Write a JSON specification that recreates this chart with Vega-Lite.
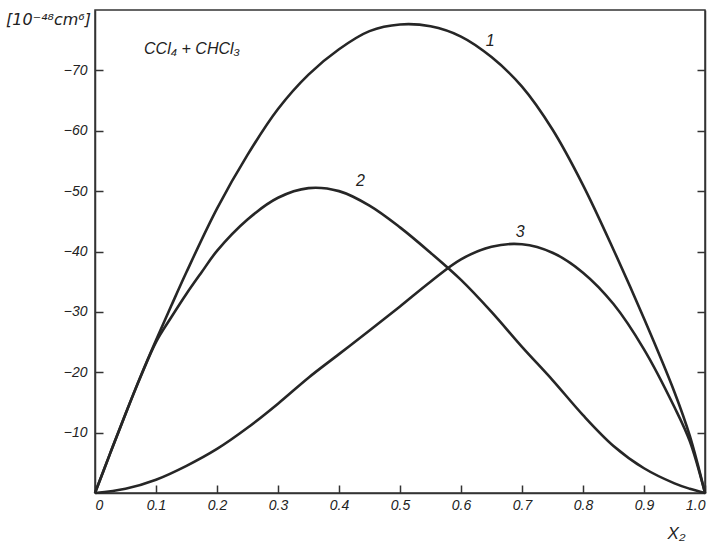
{
  "$schema": "https://vega.github.io/schema/vega-lite/v6.json",
  "width": 610,
  "height": 483,
  "autosize": {"type": "none"},
  "padding": {"left": 95, "top": 10, "right": 2, "bottom": 52},
  "background": "white",
  "config": {
    "view": {"stroke": "#333333", "strokeWidth": 1.5},
    "axis": {
      "domainColor": "#333333",
      "domainWidth": 1.5,
      "tickColor": "#333333",
      "tickWidth": 1.5,
      "tickSize": -8,
      "grid": false,
      "labelFont": "Liberation Sans",
      "labelFontStyle": "italic",
      "labelFontSize": 14,
      "labelColor": "#222222",
      "titleFont": "Liberation Sans",
      "titleFontStyle": "italic",
      "titleFontWeight": "normal",
      "titleColor": "#222222"
    }
  },
  "datasets": {
    "curves": [
      {"curve": "1", "x": 0, "v": 0},
      {"curve": "1", "x": 0.025, "v": -6.6},
      {"curve": "1", "x": 0.05, "v": -13.1},
      {"curve": "1", "x": 0.075, "v": -19.4},
      {"curve": "1", "x": 0.1, "v": -25.3},
      {"curve": "1", "x": 0.125, "v": -31.0},
      {"curve": "1", "x": 0.15, "v": -36.6},
      {"curve": "1", "x": 0.2, "v": -47.1},
      {"curve": "1", "x": 0.25, "v": -56.0},
      {"curve": "1", "x": 0.3, "v": -63.6},
      {"curve": "1", "x": 0.35, "v": -69.3},
      {"curve": "1", "x": 0.4, "v": -73.5},
      {"curve": "1", "x": 0.45, "v": -76.5},
      {"curve": "1", "x": 0.5, "v": -77.6},
      {"curve": "1", "x": 0.55, "v": -77.3},
      {"curve": "1", "x": 0.6, "v": -75.6},
      {"curve": "1", "x": 0.65, "v": -72.2},
      {"curve": "1", "x": 0.7, "v": -67.3},
      {"curve": "1", "x": 0.75, "v": -60.2},
      {"curve": "1", "x": 0.8, "v": -51.0},
      {"curve": "1", "x": 0.85, "v": -40.3},
      {"curve": "1", "x": 0.9, "v": -28.9},
      {"curve": "1", "x": 0.95, "v": -16.7},
      {"curve": "1", "x": 0.975, "v": -9.5},
      {"curve": "1", "x": 1.0, "v": 0},
      {"curve": "2", "x": 0, "v": 0},
      {"curve": "2", "x": 0.025, "v": -6.6},
      {"curve": "2", "x": 0.05, "v": -13.1},
      {"curve": "2", "x": 0.075, "v": -19.3},
      {"curve": "2", "x": 0.1, "v": -25.0},
      {"curve": "2", "x": 0.125, "v": -29.1},
      {"curve": "2", "x": 0.15, "v": -33.0},
      {"curve": "2", "x": 0.175, "v": -36.6},
      {"curve": "2", "x": 0.2, "v": -40.1},
      {"curve": "2", "x": 0.25, "v": -45.3},
      {"curve": "2", "x": 0.3, "v": -48.9},
      {"curve": "2", "x": 0.35, "v": -50.5},
      {"curve": "2", "x": 0.4, "v": -50.0},
      {"curve": "2", "x": 0.45, "v": -47.6},
      {"curve": "2", "x": 0.5, "v": -44.0},
      {"curve": "2", "x": 0.55, "v": -39.8},
      {"curve": "2", "x": 0.6, "v": -35.3},
      {"curve": "2", "x": 0.65, "v": -30.0},
      {"curve": "2", "x": 0.7, "v": -24.2},
      {"curve": "2", "x": 0.75, "v": -18.7},
      {"curve": "2", "x": 0.8, "v": -12.9},
      {"curve": "2", "x": 0.85, "v": -7.8},
      {"curve": "2", "x": 0.9, "v": -4.1},
      {"curve": "2", "x": 0.95, "v": -1.6},
      {"curve": "2", "x": 0.975, "v": -0.7},
      {"curve": "2", "x": 1.0, "v": 0},
      {"curve": "3", "x": 0, "v": 0},
      {"curve": "3", "x": 0.05, "v": -0.7},
      {"curve": "3", "x": 0.1, "v": -2.2},
      {"curve": "3", "x": 0.15, "v": -4.5},
      {"curve": "3", "x": 0.2, "v": -7.3},
      {"curve": "3", "x": 0.25, "v": -10.8},
      {"curve": "3", "x": 0.3, "v": -14.8},
      {"curve": "3", "x": 0.35, "v": -19.1},
      {"curve": "3", "x": 0.4, "v": -23.0},
      {"curve": "3", "x": 0.45, "v": -26.9},
      {"curve": "3", "x": 0.5, "v": -30.9},
      {"curve": "3", "x": 0.55, "v": -35.0},
      {"curve": "3", "x": 0.6, "v": -38.7},
      {"curve": "3", "x": 0.65, "v": -40.8},
      {"curve": "3", "x": 0.7, "v": -41.2},
      {"curve": "3", "x": 0.75, "v": -39.8},
      {"curve": "3", "x": 0.8, "v": -36.5},
      {"curve": "3", "x": 0.85, "v": -31.3},
      {"curve": "3", "x": 0.9, "v": -23.8},
      {"curve": "3", "x": 0.95, "v": -14.2},
      {"curve": "3", "x": 0.975, "v": -8.6},
      {"curve": "3", "x": 1.0, "v": 0}
    ],
    "notes": [
      {"x": 0.648, "v": -74.8, "text": "1", "kind": "num"},
      {"x": 0.435, "v": -51.6, "text": "2", "kind": "num"},
      {"x": 0.697, "v": -43.3, "text": "3", "kind": "num"},
      {"x": 0.159, "v": -73.6, "text": "CCl₄ + CHCl₃", "kind": "name"}
    ]
  },
  "layer": [
    {
      "data": {"name": "curves"},
      "mark": {"type": "line", "interpolate": "catmull-rom", "strokeWidth": 2.6, "color": "#262626"},
      "encoding": {
        "x": {
          "field": "x", "type": "quantitative",
          "scale": {"domain": [0, 1], "nice": false},
          "axis": {
            "values": [0, 0.1, 0.2, 0.3, 0.4, 0.5, 0.6, 0.7, 0.8, 0.9, 1.0],
            "labelExpr": "datum.value == 0 ? '0' : format(datum.value, '.1f')",
            "labelPadding": 13,
            "title": "X₂",
            "titleFontSize": 17,
            "titleX": 581,
            "titleY": 45,
            "titleAlign": "center",
            "titleBaseline": "alphabetic"
          }
        },
        "y": {
          "field": "v", "type": "quantitative",
          "scale": {"domain": [0, -80], "nice": false, "zero": false},
          "axis": {
            "values": [-10, -20, -30, -40, -50, -60, -70],
            "labelPadding": 16,
            "title": "[10⁻⁴⁸cm⁶]",
            "titleFont": "DejaVu Sans",
            "titleAngle": 0,
            "titleFontSize": 16,
            "titleX": -47,
            "titleY": 14,
            "titleAlign": "center",
            "titleBaseline": "alphabetic"
          }
        },
        "detail": {"field": "curve"}
      }
    },
    {
      "data": {"name": "notes"},
      "mark": {"type": "text", "font": "Liberation Sans", "fontStyle": "italic", "color": "#222222", "align": "center", "baseline": "middle"},
      "encoding": {
        "x": {"field": "x", "type": "quantitative"},
        "y": {
          "field": "v", "type": "quantitative",
          "axis": {
            "orient": "right",
            "values": [-10, -20, -30, -40, -50, -60, -70],
            "labels": false,
            "title": null
          }
        },
        "text": {"field": "text"},
        "size": {"field": "kind", "type": "nominal", "scale": {"domain": ["num", "name"], "range": [16, 16]}, "legend": null},
        "fontWeight": {"field": "kind", "type": "nominal", "scale": {"domain": ["num", "name"], "range": ["bold", "normal"]}, "legend": null}
      }
    }
  ],
  "resolve": {"axis": {"y": "independent"}}
}
